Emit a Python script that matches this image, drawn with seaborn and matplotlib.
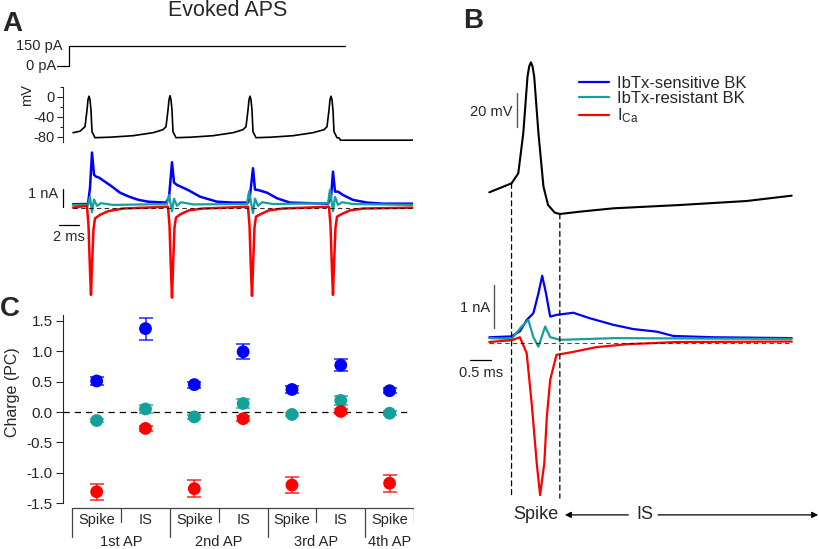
import numpy as np
import pandas as pd
import matplotlib
matplotlib.use("Agg")
import matplotlib.pyplot as plt
import seaborn as sns
from matplotlib.lines import Line2D
from matplotlib.patches import ConnectionPatch

# colours of the three currents
BLUE = "#0000ff"
TEAL = "#14a09b"
RED = "#ff0000"

# ---- panel A: stimulus (ms, pA) ----
stim_t = [-1.6, -0.45, -0.45, 27.2]
stim_pa = [0, 0, 150, 150]

# ---- panel A: voltage (ms, mV) ----
va_t = [0, 0.7, 1.2, 1.4, 1.5, 1.6, 1.7, 1.8, 1.9, 2.2, 3.7, 6.0, 8.0, 9.0,
        9.3, 9.5, 9.6, 9.7, 9.8, 9.9, 10.0, 10.3, 11.8, 14.0, 16.0, 17.0,
        17.3, 17.5, 17.6, 17.7, 17.8, 17.9, 18.0, 18.3, 19.8, 22.0, 24.0, 25.1,
        25.4, 25.6, 25.7, 25.8, 25.9, 26.0, 26.1, 26.4, 26.6, 26.75, 34.0]
va_mv = [-72, -69, -60, -27, -6, 1, -6, -27, -70, -82, -81, -78, -72, -66,
         -60, -27, -6, 2, -6, -27, -70, -82, -81, -78, -72, -66,
         -60, -27, -6, 1, -6, -27, -70, -82, -81, -78, -72, -66,
         -60, -27, -6, 1, -6, -27, -70, -82, -82.5, -87, -87]

# ---- panel A: currents (ms, nA) ----
ia_blue_t = [0, 1.5, 1.7, 1.9, 2.1, 2.3, 2.6, 3.2, 3.9, 4.7,
             5.6, 6.5, 7.5, 9.3, 9.6, 9.9, 10.1, 10.4, 11.0, 11.6,
             12.7, 14.4, 16.0, 17.5, 17.7, 18.0, 18.2, 18.5, 19.4, 20.4,
             21.7, 25.5, 25.8, 26.0, 26.2, 26.5, 27.0, 28.0, 29.4, 31.0, 34.0]
ia_blue = [0.19, 0.2, 1.1, 3.06, 1.83, 1.72, 1.67, 1.44, 1.17, 0.83,
           0.61, 0.44, 0.33, 0.28, 0.56, 2.52, 1.39, 1.26, 1.11, 0.95,
           0.61, 0.33, 0.28, 0.28, 0.67, 2.19, 1.0, 0.98, 0.83, 0.52,
           0.28, 0.22, 0.56, 2.0, 0.89, 0.89, 0.7, 0.43, 0.28, 0.22, 0.22]
ia_teal_t = [0, 1.5, 1.7, 1.9, 2.1, 2.4, 2.8, 4,
             9.4, 9.6, 9.9, 10.1, 10.4, 10.8, 12,
             17.4, 17.6, 18.0, 18.2, 18.5, 18.9, 20,
             25.5, 25.7, 26.0, 26.2, 26.5, 26.9, 28, 34]
ia_teal = [0.15, 0.15, 0.6, -0.25, 0.45, 0.1, 0.25, 0.15,
           0.2, 0.7, -0.2, 0.5, 0.1, 0.3, 0.18,
           0.2, 0.9, -0.3, 0.5, 0.1, 0.3, 0.2,
           0.25, 1.0, -0.2, 0.6, 0.15, 0.3, 0.2, 0.15]
ia_red_t = [0, 1.4, 1.55, 1.7, 1.8, 1.9, 2.05, 2.2, 2.7, 3.5, 5.0,
            9.5, 9.65, 9.8, 9.9, 10.0, 10.15, 10.3, 10.8, 11.6, 13.0,
            17.5, 17.65, 17.8, 17.9, 18.0, 18.15, 18.3, 18.8, 19.6, 21.0,
            25.6, 25.75, 25.9, 26.0, 26.1, 26.25, 26.4, 26.9, 27.7, 29.0, 34]
ia_red = [0.0, 0.1, -1.0, -3.5, -4.85, -3.2, -1.2, -0.6, -0.4, -0.2, -0.05,
          0.05, -1.0, -3.6, -5.0, -3.3, -1.1, -0.55, -0.35, -0.15, -0.05,
          0.05, -1.0, -3.6, -4.9, -3.3, -1.1, -0.5, -0.35, -0.15, -0.05,
          0.05, -1.0, -3.5, -4.85, -3.2, -1.1, -0.5, -0.35, -0.15, -0.05, 0.0]

# ---- panel B: single AP (ms, mV) ----
vb_t = [0, 0.53, 0.69, 0.81, 0.91, 0.95, 0.99, 1.03, 1.07, 1.17, 1.29, 1.40,
        1.56, 1.68, 2.16, 2.95, 4.54, 6.13, 7.2]
vb_mv = [-62.0, -56.6, -50.6, -26.4, 7.4, 13.5, 16.0, 13.5, 7.4, -26.4, -58.6, -69.6,
         -74.2, -75.0, -73.6, -71.6, -69.6, -67.2, -64.0]

# ---- panel B: currents (ms, nA) ----
ib_blue_t = [0, 0.53, 0.73, 0.89, 1.05, 1.17, 1.26, 1.35, 1.45, 1.60,
             2.0, 2.40, 2.95, 3.43, 3.99, 4.38, 5.33, 7.2]
ib_blue = [0.14, 0.16, 0.28, 0.54, 0.70, 1.16, 1.57, 1.16, 0.62, 0.66,
           0.71, 0.58, 0.43, 0.33, 0.27, 0.17, 0.14, 0.12]
ib_teal_t = [0, 0.53, 0.77, 0.93, 1.05, 1.17, 1.33, 1.45, 1.69, 3.0, 7.2]
ib_teal = [0.12, 0.10, 0.39, 0.54, 0.14, -0.08, 0.39, 0.14, 0.08, 0.12, 0.10]
ib_red_t = [0, 0.53, 0.73, 0.89, 1.01, 1.13, 1.21, 1.31, 1.37, 1.45,
            1.60, 2.0, 2.55, 3.3, 4.5, 7.2]
ib_red = [0.03, 0.07, 0.14, -0.23, -1.40, -2.79, -3.53, -2.79, -1.71, -0.85,
          -0.27, -0.20, -0.09, -0.02, 0.03, 0.04]
spike_edges = [0.53, 1.68]          # ms, start / end of the spike window
spike_edge_mv = [-56.6, -75.0]

# ---- panel C: charge (pC) ----
cat_labels = ["Spike", "IS", "Spike", "IS", "Spike", "IS", "Spike"]
ap_labels = ["1st AP", "2nd AP", "3rd AP", "4th AP"]
blue_mean = [0.51, 1.37, 0.45, 0.99, 0.37, 0.77, 0.35]
blue_err = [0.06, 0.18, 0.05, 0.12, 0.05, 0.10, 0.04]
teal_mean = [-0.14, 0.05, -0.08, 0.14, -0.04, 0.19, -0.02]
teal_err = [0.03, 0.06, 0.03, 0.08, 0.03, 0.08, 0.03]
red_mean = [-1.31, -0.27, -1.26, -0.11, -1.20, 0.01, -1.17]
red_err = [0.13, 0.04, 0.14, 0.04, 0.135, 0.04, 0.14]

sns.set_style("white")
plt.rcParams["font.family"] = ["Liberation Sans", "DejaVu Sans"]
plt.rcParams["axes.unicode_minus"] = False
plt.rcParams["mathtext.default"] = "regular"

W, H = 820, 549
fig = plt.figure(figsize=(W / 100, H / 100), dpi=100)


def px_ax(x0, y0, x1, y1):
    # place an axes using pixel positions measured from the top left
    ax = fig.add_axes([x0 / W, 1 - y1 / H, (x1 - x0) / W, (y1 - y0) / H])
    ax.set_facecolor("none")
    for s in ax.spines.values():
        s.set_visible(False)
    ax.set_xticks([])
    ax.set_yticks([])
    return ax


def trace(ax, x, y, color, lw):
    sns.lineplot(x=x, y=y, ax=ax, color=color, lw=lw, estimator=None, sort=False)


def fig_text(x, y, s, **kw):
    # text placed with pixel coordinates from the top left
    fig.text(x / W, 1 - y / H, s, **kw)


# ================= panel A =================
fig_text(2, 24, "A", fontsize=20, fontweight="bold", va="center")
fig_text(228, 11, "Evoked APS", fontsize=15.5, ha="center", va="center")

ax_st = px_ax(57, 40, 413, 72)
ax_st.set_xlim(-1.6, 34)
ax_st.set_ylim(-45, 195)
trace(ax_st, stim_t, stim_pa, "black", 0.9)
ax_st.text(-1.1, 150, "150 pA", ha="right", va="center", fontsize=10.5)
ax_st.text(-1.7, 0, "0 pA", ha="right", va="center", fontsize=10.5)

ax_va = px_ax(63, 86, 413, 143)
ax_va.set_xlim(-1.0, 34)
ax_va.set_ylim(-92.6, 21.4)
trace(ax_va, va_t, va_mv, "black", 1.2)
ax_va.set_ylabel("")
ax_va.spines["left"].set_visible(True)
ax_va.spines["left"].set_bounds(-90, 20)
ax_va.spines["left"].set_linewidth(0.8)
ax_va.set_yticks([-80, -40, 0])
ax_va.set_yticks([-60, -20, 20], minor=True)
ax_va.set_yticklabels(["-80", "-40", "0"])
ax_va.tick_params(axis="y", which="major", direction="out", length=4, width=0.8,
                  left=True, labelsize=10.5, pad=2)
ax_va.tick_params(axis="y", which="minor", direction="out", length=2.5, width=0.8, left=True)
fig_text(27, 95, "mV", fontsize=10.5, rotation=90, ha="center", va="center")

ax_ia = px_ax(57, 145, 413, 305)
ax_ia.set_xlim(-1.6, 34)
ax_ia.set_ylim(-5.41, 3.48)
trace(ax_ia, ia_blue_t, ia_blue, BLUE, 1.8)
trace(ax_ia, ia_teal_t, ia_teal, TEAL, 1.6)
trace(ax_ia, ia_red_t, ia_red, RED, 1.8)
ax_ia.plot([0, 34], [0, 0], color="black", lw=0.8, ls=(0, (4, 3)), alpha=0.8, zorder=5)
ax_ia.plot([-1.03, -1.03], [0.04, 1.04], color="black", lw=0.9, clip_on=False)
ax_ia.text(-1.45, 0.75, "1 nA", ha="right", va="center", fontsize=10.5)
ax_ia.plot([-1.37, 0.63], [-0.96, -0.96], color="black", lw=0.9, clip_on=False)
ax_ia.text(-0.4, -1.65, "2 ms", ha="center", va="center", fontsize=10.5)

# ================= panel B =================
fig_text(463, 21, "B", fontsize=20, fontweight="bold", va="center")

b_xlim = (-0.102, 7.398)
ax_bv = px_ax(485, 55, 800, 222)
ax_bv.set_xlim(*b_xlim)
ax_bv.set_ylim(-79.8, 20.4)
trace(ax_bv, vb_t, vb_mv, "black", 1.5)
ax_bv.plot([0.66, 0.66], [-22.6, -2.6], color="#555555", lw=1.0)
ax_bv.text(0.56, -13.8, "20 mV", ha="right", va="center", fontsize=10.5)

ax_bi = px_ax(485, 265, 800, 505)
ax_bi.set_xlim(*b_xlim)
ax_bi.set_ylim(-3.76, 1.82)
trace(ax_bi, ib_blue_t, ib_blue, BLUE, 1.6)
trace(ax_bi, ib_teal_t, ib_teal, TEAL, 1.6)
trace(ax_bi, ib_red_t, ib_red, RED, 1.6)
ax_bi.plot([0, 7.2], [0, 0], color="black", lw=0.8, ls=(0, (4, 3)), alpha=0.7, zorder=5)
ax_bi.plot([0.11, 0.11], [0.36, 1.36], color="#555555", lw=1.0, clip_on=False)
ax_bi.text(0.02, 0.82, "1 nA", ha="right", va="center", fontsize=10.5)
ax_bi.plot([-0.46, 0.04], [-0.39, -0.39], color="black", lw=0.9, clip_on=False)
ax_bi.text(-0.19, -0.68, "0.5 ms", ha="center", va="center", fontsize=10.5)

for t_edge, v_edge in zip(spike_edges, spike_edge_mv):
    con = ConnectionPatch(xyA=(t_edge, v_edge), coordsA=ax_bv.transData,
                          xyB=(t_edge, -3.6), coordsB=ax_bi.transData,
                          color="black", lw=0.9, linestyle=(0, (4, 3)))
    fig.add_artist(con)

y_lab = -3.99
ax_bi.text(1.11, y_lab, "Spike", ha="center", va="center", fontsize=13)
ax_bi.text(3.70, y_lab, "IS", ha="center", va="center", fontsize=13)
ax_bi.annotate("", xy=(1.80, y_lab), xytext=(3.31, y_lab), annotation_clip=False,
               arrowprops=dict(arrowstyle="-|>", color="black", lw=0.9, mutation_scale=9,
                               shrinkA=0, shrinkB=0))
ax_bi.annotate("", xy=(7.83, y_lab), xytext=(4.02, y_lab), annotation_clip=False,
               arrowprops=dict(arrowstyle="-|>", color="black", lw=0.9, mutation_scale=9,
                               shrinkA=0, shrinkB=0))

handles = [Line2D([], [], color=BLUE, lw=1.6),
           Line2D([], [], color=TEAL, lw=1.6),
           Line2D([], [], color=RED, lw=1.6)]
fig.legend(handles, ["IbTx-sensitive BK", "IbTx-resistant BK", "I$_{Ca}$"],
           loc="upper left", bbox_to_anchor=(579 / W, 1 - 76 / H), frameon=False,
           fontsize=12, handlelength=1.8, handletextpad=0.5, labelspacing=0.02,
           borderaxespad=0, borderpad=0)

# ================= panel C =================
fig_text(0, 309, "C", fontsize=20, fontweight="bold", va="center")

pos = list(range(len(cat_labels)))
df_c = pd.DataFrame({
    "pos": pos * 3,
    "charge": blue_mean + teal_mean + red_mean,
    "err": blue_err + teal_err + red_err,
    "current": ["blue"] * 7 + ["teal"] * 7 + ["red"] * 7,
})
pal = {"blue": BLUE, "teal": TEAL, "red": RED}

ax_c = px_ax(63, 315, 414, 503.3)
ax_c.set_xlim(-0.69, 6.5)
ax_c.set_ylim(-1.5, 1.594)
ax_c.plot([-0.69, 6.35], [0, 0], color="black", lw=0.9, ls=(0, (5, 4)), zorder=1)
for name, grp in df_c.groupby("current"):
    ax_c.errorbar(grp["pos"], grp["charge"], yerr=grp["err"], fmt="none",
                  ecolor=pal[name], elinewidth=1.1, capsize=5.3, capthick=1.1,
                  alpha=0.85, zorder=2)
sns.scatterplot(data=df_c, x="pos", y="charge", hue="current", palette=pal,
                s=85, edgecolor="none", legend=False, ax=ax_c, zorder=3)
ax_c.set_xlabel("")
ax_c.set_ylabel("")
ax_c.set_xticks([])
ax_c.spines["left"].set_visible(True)
ax_c.spines["left"].set_linewidth(0.8)
ax_c.set_yticks([-1.5, -1.0, -0.5, 0.0, 0.5, 1.0, 1.5])
ax_c.set_yticklabels(["%.1f" % v for v in [-1.5, -1.0, -0.5, 0.0, 0.5, 1.0, 1.5]])
ax_c.tick_params(axis="y", direction="out", length=5, width=0.8, left=True,
                 labelsize=11, pad=2.5)
fig_text(13, 392, "Charge (PC)", fontsize=11.5, rotation=90, ha="center", va="center")

# category box below panel C (y in pixels below its top edge)
ax_k = px_ax(63, 505, 414, 549)
ax_k.set_xlim(-0.69, 6.5)
ax_k.set_ylim(44, 0)
ax_k.plot([-0.5, 6.5], [3, 3], color="#444444", lw=0.9)
for xb in [-0.5, 1.5, 3.5, 5.5]:
    ax_k.plot([xb, xb], [3, 32], color="#444444", lw=0.9)
for xb in [0.5, 2.5, 4.5, 6.5]:
    ax_k.plot([xb, xb], [3, 17], color="#444444", lw=0.9)
for p, lab in zip(pos, cat_labels):
    ax_k.text(p, 15, lab, ha="center", va="center", fontsize=10.5)
for gx, lab in zip([0.5, 2.5, 4.5, 6.0], ap_labels):
    ax_k.text(gx, 37, lab, ha="center", va="center", fontsize=10.5, clip_on=False)

fig.savefig("out.png", dpi=100)
